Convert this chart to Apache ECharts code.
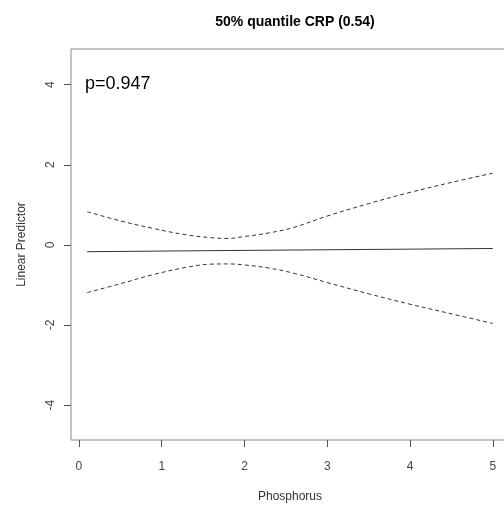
<!DOCTYPE html>
<html>
<head>
<meta charset="utf-8">
<script src="https://cdn.jsdelivr.net/npm/echarts@6/dist/echarts.min.js"></script>
<style>html,body{margin:0;padding:0;background:#fff}#c{width:504px;height:506px}</style>
</head>
<body>
<div id="c"></div>
<script>
var xTicks = [0, 1, 2, 3, 4, 5];
var yTicks = [-4, -2, 0, 2, 4];
var xs = [0.1, 0.5, 0.9, 1.3, 1.6, 1.8, 2.0, 2.3, 2.6, 3.0, 3.5, 4.0, 4.5, 5.0];
var upper = [0.83, 0.60, 0.41, 0.25, 0.18, 0.16, 0.21, 0.30, 0.44, 0.72, 1.03, 1.31, 1.56, 1.79];
var lower = [-1.19, -0.97, -0.74, -0.56, -0.48, -0.475, -0.50, -0.58, -0.71, -0.94, -1.22, -1.48, -1.72, -1.96];
var centerX = [0.1, 1.8, 5.0];
var center = [-0.17, -0.14, -0.09];

function pairs(x, y) { return x.map(function (v, i) { return [v, y[i]]; }); }

var font = 'Liberation Sans, Arial, sans-serif';
var chart = echarts.init(document.getElementById('c'), null, { renderer: 'canvas' });
chart.setOption({
  animation: false,
  title: {
    text: '50% quantile CRP (0.54)',
    left: 290, top: 10, textAlign: 'center',
    textStyle: { fontFamily: font, fontSize: 14, fontWeight: 'bold', color: '#000' }
  },
  graphic: [{
    type: 'text', left: 85, top: 75,
    style: { text: 'p=0.947', fontFamily: font, fontSize: 18, fill: '#000' }
  }],
  grid: { left: 71, top: 49, right: -5, bottom: 66, show: true, borderColor: '#888', borderWidth: 1, containLabel: false, outerBoundsMode: 'none' },
  xAxis: {
    type: 'value', min: -0.096, max: 5.196,
    name: 'Phosphorus', nameLocation: 'middle', nameGap: 51,
    nameTextStyle: { fontFamily: font, fontSize: 12, color: '#333' },
    axisLine: { show: false, onZero: false },
    axisTick: { show: true, length: 7, customValues: xTicks, lineStyle: { color: '#555' } },
    axisLabel: { customValues: xTicks, margin: 21, fontFamily: font, fontSize: 12, color: '#444' },
    splitLine: { show: false }
  },
  yAxis: {
    type: 'value', min: -4.87, max: 4.89,
    name: 'Linear Predictor', nameLocation: 'middle', nameGap: 43,
    nameTextStyle: { fontFamily: font, fontSize: 12, color: '#333' },
    axisLine: { show: false, onZero: false },
    axisTick: { show: true, length: 7, customValues: yTicks, lineStyle: { color: '#555' } },
    axisLabel: { customValues: yTicks, rotate: 90, margin: 14, fontFamily: font, fontSize: 12, color: '#444' },
    splitLine: { show: false }
  },
  series: [
    { type: 'line', data: pairs(centerX, center), showSymbol: false, lineStyle: { color: '#333', width: 1 } },
    { type: 'line', data: pairs(xs, upper), smooth: 0.4, showSymbol: false, lineStyle: { color: '#333', width: 1, type: [4, 3] } },
    { type: 'line', data: pairs(xs, lower), smooth: 0.4, showSymbol: false, lineStyle: { color: '#333', width: 1, type: [4, 3] } }
  ]
});
</script>
</body>
</html>
